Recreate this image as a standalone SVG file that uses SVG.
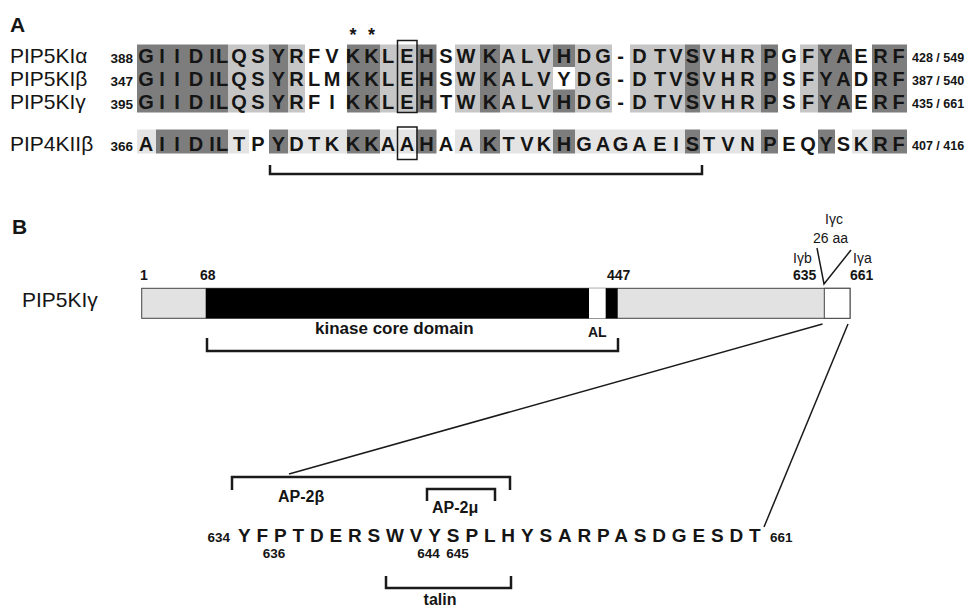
<svg xmlns="http://www.w3.org/2000/svg" width="976" height="609" viewBox="0 0 976 609">
  <style>
    text { font-family: "Liberation Sans", Arial, sans-serif; fill: #151515; }
    .panel { font-size: 21px; font-weight: bold; }
    .name { font-size: 21px; }
    .aa { font-size: 20px; font-weight: bold; text-anchor: middle; }
    .num { font-size: 13.5px; font-weight: bold; }
    .rnum { font-size: 12.5px; font-weight: bold; }
    .star { font-size: 18px; font-weight: bold; text-anchor: middle; }
    .lbl { font-size: 14px; font-weight: bold; }
    .iso { font-size: 14px; }
    .dom { font-size: 17px; font-weight: bold; }
    .seq { font-size: 19px; font-weight: bold; letter-spacing: 5.84px; }
    .site { font-size: 16px; font-weight: bold; }
    .dk { fill: #7d7d7d; }
    .lt { fill: #c6c6c6; }
    .vl { fill: #e4e4e4; }
    .brk { fill: none; stroke: #1a1a1a; stroke-width: 2.5; }
    .ln { fill: none; stroke: #1a1a1a; stroke-width: 1.5; }
    .box { fill: none; stroke: #1a1a1a; stroke-width: 1.5; }
  </style>

  <!-- Panel A: sequence alignment -->
  <text class="panel" x="10" y="32">A</text>

  <g id="alignment-shading">
    <!-- PIP5KI rows (alpha, beta, gamma) share column shading -->
    <rect class="dk" x="137" y="44.5" width="91" height="68"/>
    <rect class="lt" x="228" y="44.5" width="41" height="68"/>
    <rect class="dk" x="269" y="44.5" width="19" height="68"/>
    <rect class="lt" x="288" y="44.5" width="17" height="68"/>
    <rect class="dk" x="347" y="44.5" width="33" height="68"/>
    <rect class="lt" x="380" y="44.5" width="36.5" height="68"/>
    <rect class="dk" x="416.5" y="44.5" width="20" height="68"/>
    <rect class="lt" x="455" y="44.5" width="25" height="68"/>
    <rect class="dk" x="480" y="44.5" width="20" height="68"/>
    <rect class="lt" x="500" y="44.5" width="53" height="68"/>
    <rect class="dk" x="553" y="44.5" width="22" height="68"/>
    <rect class="lt" x="575" y="44.5" width="37" height="68"/>
    <rect class="lt" x="630" y="44.5" width="55" height="68"/>
    <rect class="dk" x="685" y="44.5" width="15" height="68"/>
    <rect class="lt" x="700" y="44.5" width="61" height="68"/>
    <rect class="dk" x="761" y="44.5" width="17" height="68"/>
    <rect class="lt" x="800" y="44.5" width="18" height="68"/>
    <rect class="dk" x="818" y="44.5" width="34" height="68"/>
    <rect class="dk" x="872" y="44.5" width="35" height="68"/>
    <!-- beta: unshaded Y -->
    <rect fill="#ffffff" x="553" y="67" width="22" height="22.5"/>

    <!-- PIP4KII beta row -->
    <rect class="vl" x="137" y="129.5" width="19" height="24"/>
    <rect class="dk" x="156" y="129.5" width="72" height="24"/>
    <rect class="vl" x="228" y="129.5" width="21" height="24"/>
    <rect class="dk" x="269" y="129.5" width="19" height="24"/>
    <rect class="vl" x="288" y="129.5" width="59" height="24"/>
    <rect class="dk" x="347" y="129.5" width="33" height="24"/>
    <rect class="vl" x="380" y="129.5" width="36.5" height="24"/>
    <rect class="dk" x="416.5" y="129.5" width="20" height="24"/>
    <rect class="vl" x="455" y="129.5" width="25" height="24"/>
    <rect class="dk" x="480" y="129.5" width="20" height="24"/>
    <rect class="vl" x="500" y="129.5" width="53" height="24"/>
    <rect class="dk" x="553" y="129.5" width="22" height="24"/>
    <rect class="vl" x="575" y="129.5" width="110" height="24"/>
    <rect class="dk" x="685" y="129.5" width="15" height="24"/>
    <rect class="vl" x="700" y="129.5" width="61" height="24"/>
    <rect class="dk" x="761" y="129.5" width="17" height="24"/>
    <rect class="dk" x="818" y="129.5" width="17" height="24"/>
    <rect class="vl" x="852" y="129.5" width="20" height="24"/>
    <rect class="dk" x="872" y="129.5" width="35" height="24"/>
  </g>

  <g id="conserved-marks">
    <text class="star" x="353" y="40.5">*</text>
    <text class="star" x="371.5" y="40.5">*</text>
    <rect class="box" x="397.5" y="40.5" width="19.5" height="72"/>
    <rect class="box" x="397.5" y="127" width="19.5" height="32.5"/>
  </g>

  <g id="row-pip5k1a">
    <text class="name" x="10" y="63">PIP5KIα</text>
    <text class="num" x="133" y="63" text-anchor="end">388</text>
    <text class="aa" y="63" x="146 162 177 196 212 222 239 258 278.5 296.5 314 332 353 371.5 388 407 426.5 446 466 490 508.5 527 544 564 584 603 620.5 639.5 660 676 692.5 709 728 747.5 770 789 808 826 843.5 861 880.5 898.5">GIIDILQSYRFVKKLEHSWKALVHDG-DTVSVHRPGFYAERF</text>
    <text class="rnum" x="912" y="62">428 / 549</text>
  </g>
  <g id="row-pip5k1b">
    <text class="name" x="10" y="86">PIP5KIβ</text>
    <text class="num" x="133" y="86" text-anchor="end">347</text>
    <text class="aa" y="86" x="146 162 177 196 212 222 239 258 278.5 296.5 314 332 353 371.5 388 407 426.5 446 466 490 508.5 527 544 564 584 603 620.5 639.5 660 676 692.5 709 728 747.5 770 789 808 826 843.5 861 880.5 898.5">GIIDILQSYRLMKKLEHSWKALVYDG-DTVSVHRPSFYADRF</text>
    <text class="rnum" x="912" y="85">387 / 540</text>
  </g>
  <g id="row-pip5k1g">
    <text class="name" x="10" y="109">PIP5KIγ</text>
    <text class="num" x="133" y="109" text-anchor="end">395</text>
    <text class="aa" y="109" x="146 162 177 196 212 222 239 258 278.5 296.5 314 332 353 371.5 388 407 426.5 446 466 490 508.5 527 544 564 584 603 620.5 639.5 660 676 692.5 709 728 747.5 770 789 808 826 843.5 861 880.5 898.5">GIIDILQSYRFIKKLEHTWKALVHDG-DTVSVHRPSFYAERF</text>
    <text class="rnum" x="912" y="108">435 / 661</text>
  </g>
  <g id="row-pip4k2b">
    <text class="name" x="10" y="151">PIP4KIIβ</text>
    <text class="num" x="133" y="151" text-anchor="end">366</text>
    <text class="aa" y="151" x="146 162 177 196 212 222 239 258 278.5 296.5 314 332 353 371.5 388 407 426.5 446 466 490 508.5 527 544 564 584 603 620.5 639.5 660 676 692.5 709 728 747.5 770 789 808 826 843.5 861 880.5 898.5">AIIDILTPYDTKKKAAHAAKTVKHGAGAEISTVNPEQYSKRF</text>
    <text class="rnum" x="912" y="150">407 / 416</text>
  </g>
  <path id="alignment-bracket" class="brk" d="M270 165 V174 H702 V165"/>

  <!-- Panel B: PIP5KI gamma domain map -->
  <text class="panel" x="12" y="234">B</text>

  <g id="pip5k1g-bar">
    <text class="name" x="22" y="307">PIP5KIγ</text>
    <rect x="141.7" y="288.3" width="708.3" height="30" fill="#e2e2e2" stroke="#444" stroke-width="1"/>
    <rect x="205.7" y="288.3" width="383.3" height="30" fill="#000"/>
    <rect x="589" y="288.3" width="16.7" height="30" fill="#fff"/>
    <rect x="605.7" y="288.3" width="12" height="30" fill="#000"/>
    <rect x="824.3" y="288.3" width="25.7" height="30" fill="#fff" stroke="#444" stroke-width="1"/>
    <text class="lbl" x="140" y="280">1</text>
    <text class="lbl" x="200" y="280">68</text>
    <text class="lbl" x="607" y="280">447</text>
    <text class="dom" x="315" y="334">kinase core domain</text>
    <text class="lbl" x="588" y="337">AL</text>
    <path class="brk" d="M207 338 V351 H618 V338"/>
  </g>

  <g id="splice-variants">
    <text class="iso" x="825" y="224">Iγc</text>
    <text class="iso" x="813" y="243">26 aa</text>
    <text class="iso" x="793" y="263">Iγb</text>
    <text class="lbl" x="793" y="280">635</text>
    <text class="iso" x="853" y="263">Iγa</text>
    <text class="lbl" x="850" y="280">661</text>
    <path class="ln" d="M817 248 L824 284 L851 250"/>
  </g>

  <g id="connectors">
    <line class="ln" x1="822.5" y1="324" x2="289" y2="474"/>
    <line class="ln" x1="848" y1="324" x2="764" y2="527"/>
  </g>

  <g id="binding-sites">
    <path class="brk" d="M232 490 V477 H510 V490"/>
    <text class="site" x="278" y="502">AP-2β</text>
    <path class="brk" d="M427 501 V489 H495 V501"/>
    <text class="site" x="432" y="513">AP-2μ</text>
    <path class="brk" d="M386 576 V588 H511 V576"/>
    <text class="site" x="440" y="605" text-anchor="middle">talin</text>
  </g>

  <g id="tail-sequence">
    <text class="num" x="230" y="542" text-anchor="end">634</text>
    <text class="seq" x="238" y="541.5">YFPTDERSWVYSPLHYSARPASDGESDT</text>
    <text class="num" x="770" y="542">661</text>
    <text class="num" x="274" y="558" text-anchor="middle">636</text>
    <text class="num" x="428.5" y="558" text-anchor="middle">644</text>
    <text class="num" x="457.5" y="558" text-anchor="middle">645</text>
  </g>
</svg>
